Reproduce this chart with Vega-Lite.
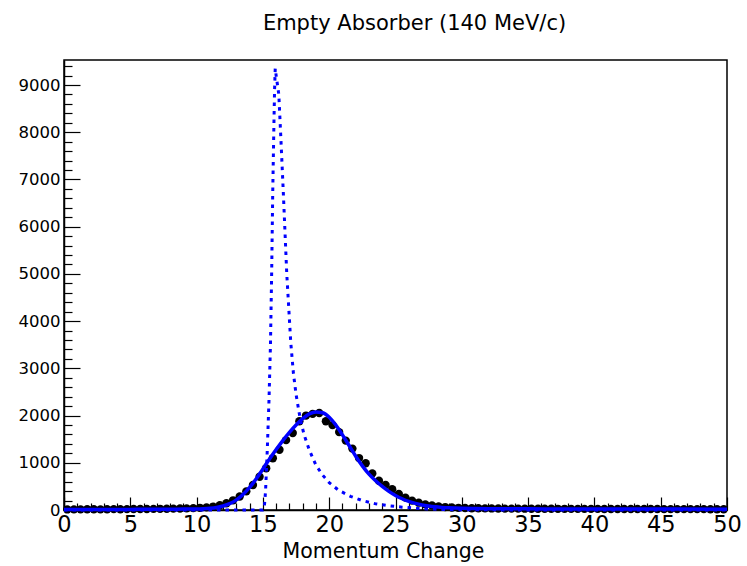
{
  "$schema": "https://vega.github.io/schema/vega-lite/v6.json",
  "width": 663,
  "height": 450,
  "autosize": {"type": "none"},
  "padding": {"left": 64, "top": 60, "right": 20, "bottom": 56},
  "background": "white",
  "config": {
    "font": "DejaVu Sans",
    "view": {"stroke": "#000000", "strokeWidth": 1.5},
    "axis": {"grid": false, "domainColor": "#000000", "tickColor": "#000000", "labelColor": "#000000", "titleColor": "#000000", "domainWidth": 1.5, "tickWidth": 1.2, "labelFont": "DejaVu Sans", "titleFont": "DejaVu Sans"}
  },
  "title": {"text": "Empty Absorber (140 MeV/c)", "fontSize": 21, "font": "DejaVu Sans", "fontWeight": "normal", "color": "#000000", "anchor": "middle", "dx": 19, "baseline": "alphabetic", "offset": 9},
  "datasets": {
    "hist": [
      {"x": 0.25, "y": 12}, {"x": 0.75, "y": 14}, {"x": 1.25, "y": 13}, {"x": 1.75, "y": 15}, {"x": 2.25, "y": 16}, {"x": 2.75, "y": 14}, {"x": 3.25, "y": 17}, {"x": 3.75, "y": 18}, {"x": 4.25, "y": 17}, {"x": 4.75, "y": 19},
      {"x": 5.25, "y": 20}, {"x": 5.75, "y": 21}, {"x": 6.25, "y": 22}, {"x": 6.75, "y": 23}, {"x": 7.25, "y": 25}, {"x": 7.75, "y": 27}, {"x": 8.25, "y": 29}, {"x": 8.75, "y": 32}, {"x": 9.25, "y": 35}, {"x": 9.75, "y": 40},
      {"x": 10.25, "y": 46}, {"x": 10.75, "y": 56}, {"x": 11.25, "y": 72}, {"x": 11.75, "y": 100}, {"x": 12.25, "y": 142}, {"x": 12.75, "y": 205}, {"x": 13.25, "y": 285}, {"x": 13.75, "y": 395}, {"x": 14.25, "y": 530}, {"x": 14.75, "y": 705},
      {"x": 15.25, "y": 885}, {"x": 15.75, "y": 1095}, {"x": 16.25, "y": 1275}, {"x": 16.75, "y": 1480}, {"x": 17.25, "y": 1630}, {"x": 17.75, "y": 1880}, {"x": 18.25, "y": 2000}, {"x": 18.75, "y": 2035}, {"x": 19.25, "y": 2055}, {"x": 19.75, "y": 1880},
      {"x": 20.25, "y": 1800}, {"x": 20.75, "y": 1650}, {"x": 21.25, "y": 1470}, {"x": 21.75, "y": 1300}, {"x": 22.25, "y": 1100}, {"x": 22.75, "y": 990}, {"x": 23.25, "y": 775}, {"x": 23.75, "y": 620}, {"x": 24.25, "y": 530}, {"x": 24.75, "y": 440},
      {"x": 25.25, "y": 340}, {"x": 25.75, "y": 262}, {"x": 26.25, "y": 198}, {"x": 26.75, "y": 155}, {"x": 27.25, "y": 120}, {"x": 27.75, "y": 98}, {"x": 28.25, "y": 75}, {"x": 28.75, "y": 62}, {"x": 29.25, "y": 52}, {"x": 29.75, "y": 46},
      {"x": 30.25, "y": 42}, {"x": 30.75, "y": 38}, {"x": 31.25, "y": 36}, {"x": 31.75, "y": 34}, {"x": 32.25, "y": 33}, {"x": 32.75, "y": 31}, {"x": 33.25, "y": 30}, {"x": 33.75, "y": 29}, {"x": 34.25, "y": 29}, {"x": 34.75, "y": 28},
      {"x": 35.25, "y": 27}, {"x": 35.75, "y": 27}, {"x": 36.25, "y": 26}, {"x": 36.75, "y": 26}, {"x": 37.25, "y": 25}, {"x": 37.75, "y": 25}, {"x": 38.25, "y": 24}, {"x": 38.75, "y": 24}, {"x": 39.25, "y": 24}, {"x": 39.75, "y": 23},
      {"x": 40.25, "y": 23}, {"x": 40.75, "y": 22}, {"x": 41.25, "y": 22}, {"x": 41.75, "y": 22}, {"x": 42.25, "y": 21}, {"x": 42.75, "y": 21}, {"x": 43.25, "y": 21}, {"x": 43.75, "y": 20}, {"x": 44.25, "y": 20}, {"x": 44.75, "y": 20},
      {"x": 45.25, "y": 19}, {"x": 45.75, "y": 19}, {"x": 46.25, "y": 19}, {"x": 46.75, "y": 18}, {"x": 47.25, "y": 18}, {"x": 47.75, "y": 18}, {"x": 48.25, "y": 18}, {"x": 48.75, "y": 17}, {"x": 49.25, "y": 17}, {"x": 49.75, "y": 17}
    ],
    "fit": [
      {"x": 0, "y": 10}, {"x": 1, "y": 10}, {"x": 2, "y": 11}, {"x": 3, "y": 11}, {"x": 4, "y": 12}, {"x": 5, "y": 13}, {"x": 6, "y": 14}, {"x": 7, "y": 15}, {"x": 8, "y": 17}, {"x": 9, "y": 19},
      {"x": 9.5, "y": 20}, {"x": 10, "y": 21}, {"x": 10.5, "y": 26}, {"x": 11, "y": 35}, {"x": 11.5, "y": 52}, {"x": 12, "y": 85}, {"x": 12.5, "y": 135}, {"x": 13, "y": 215}, {"x": 13.5, "y": 330}, {"x": 14, "y": 480},
      {"x": 14.5, "y": 660}, {"x": 15, "y": 870}, {"x": 15.5, "y": 1080}, {"x": 16, "y": 1280}, {"x": 16.5, "y": 1470}, {"x": 17, "y": 1645}, {"x": 17.5, "y": 1800}, {"x": 18, "y": 1935}, {"x": 18.5, "y": 2035}, {"x": 19, "y": 2078},
      {"x": 19.5, "y": 2060}, {"x": 20, "y": 1965}, {"x": 20.5, "y": 1800}, {"x": 21, "y": 1590}, {"x": 21.5, "y": 1365}, {"x": 22, "y": 1140}, {"x": 22.5, "y": 935}, {"x": 23, "y": 760}, {"x": 23.5, "y": 620}, {"x": 24, "y": 500},
      {"x": 24.5, "y": 395}, {"x": 25, "y": 308}, {"x": 25.5, "y": 238}, {"x": 26, "y": 182}, {"x": 26.5, "y": 140}, {"x": 27, "y": 107}, {"x": 27.5, "y": 84}, {"x": 28, "y": 67}, {"x": 28.5, "y": 55}, {"x": 29, "y": 46},
      {"x": 29.5, "y": 40}, {"x": 30, "y": 35}, {"x": 31, "y": 30}, {"x": 32, "y": 27}, {"x": 33, "y": 26}, {"x": 34, "y": 25}, {"x": 35, "y": 24}, {"x": 37, "y": 23}, {"x": 40, "y": 21}, {"x": 43, "y": 20},
      {"x": 46, "y": 19}, {"x": 50, "y": 18}
    ],
    "landau": [
      {"x": 0, "y": 0}, {"x": 5, "y": 0}, {"x": 10, "y": 0}, {"x": 15, "y": 0}, {"x": 15.1, "y": 30}, {"x": 15.2, "y": 400}, {"x": 15.33, "y": 1270}, {"x": 15.46, "y": 2330}, {"x": 15.57, "y": 3500}, {"x": 15.66, "y": 5000},
      {"x": 15.74, "y": 6700}, {"x": 15.82, "y": 8000}, {"x": 15.88, "y": 8900}, {"x": 15.93, "y": 9350}, {"x": 16.0, "y": 9200}, {"x": 16.1, "y": 9000}, {"x": 16.2, "y": 8800}, {"x": 16.35, "y": 7900}, {"x": 16.54, "y": 6720}, {"x": 16.8, "y": 5000},
      {"x": 17.1, "y": 3550}, {"x": 17.3, "y": 2900}, {"x": 17.5, "y": 2450}, {"x": 17.8, "y": 1950}, {"x": 18.1, "y": 1600}, {"x": 18.5, "y": 1270}, {"x": 19.0, "y": 950}, {"x": 19.5, "y": 740}, {"x": 20.0, "y": 580}, {"x": 20.7, "y": 420},
      {"x": 21.6, "y": 290}, {"x": 22.5, "y": 200}, {"x": 23.5, "y": 130}, {"x": 24.5, "y": 90}, {"x": 25.5, "y": 60}, {"x": 26.5, "y": 38}, {"x": 27.5, "y": 22}, {"x": 28.5, "y": 12}, {"x": 30, "y": 5}, {"x": 35, "y": 1},
      {"x": 40, "y": 0}, {"x": 50, "y": 0}
    ]
  },
  "resolve": {"axis": {"x": "independent", "y": "independent"}},
  "layer": [
    {
      "data": {"name": "hist"},
      "mark": {"type": "circle", "color": "#000000", "opacity": 1, "size": 70},
      "encoding": {
        "x": {"field": "x", "type": "quantitative", "scale": {"domain": [0, 50], "nice": false, "zero": false},
          "axis": {"orient": "bottom", "values": [0, 5, 10, 15, 20, 25, 30, 35, 40, 45, 50], "format": "d", "tickSize": -13, "labelFontSize": 22.5, "labelPadding": 16, "labelFlush": false, "labelOverlap": false, "title": "Momentum Change", "titleFontSize": 20.5, "titleFontWeight": "normal", "titleX": 319, "titleY": 47, "titleBaseline": "alphabetic", "titleAlign": "center"}},
        "y": {"field": "y", "type": "quantitative", "scale": {"domain": [0, 9530], "nice": false, "zero": true},
          "axis": {"orient": "left", "values": [0, 1000, 2000, 3000, 4000, 5000, 6000, 7000, 8000, 9000], "format": "d", "tickSize": -16, "labelFontSize": 16.5, "labelPadding": 20, "labelOverlap": false, "labelFlush": false, "title": null}}
      }
    },
    {
      "data": {"name": "fit"},
      "mark": {"type": "line", "color": "#0000ff", "strokeWidth": 3.5, "interpolate": "monotone"},
      "encoding": {
        "x": {"field": "x", "type": "quantitative",
          "axis": {"orient": "bottom", "values": [1,2,3,4,6,7,8,9,11,12,13,14,16,17,18,19,21,22,23,24,26,27,28,29,31,32,33,34,36,37,38,39,41,42,43,44,46,47,48,49], "tickSize": -7, "labels": false, "domain": false, "title": null}},
        "y": {"field": "y", "type": "quantitative",
          "axis": {"orient": "left", "values": [200,400,600,800,1200,1400,1600,1800,2200,2400,2600,2800,3200,3400,3600,3800,4200,4400,4600,4800,5200,5400,5600,5800,6200,6400,6600,6800,7200,7400,7600,7800,8200,8400,8600,8800,9200,9400], "tickSize": -8, "labels": false, "domain": false, "title": null}}
      }
    },
    {
      "data": {"name": "landau"},
      "mark": {"type": "line", "color": "#0000ff", "strokeWidth": 3, "strokeDash": [3.5, 5]},
      "encoding": {
        "x": {"field": "x", "type": "quantitative", "axis": null},
        "y": {"field": "y", "type": "quantitative", "axis": null}
      }
    }
  ]
}
